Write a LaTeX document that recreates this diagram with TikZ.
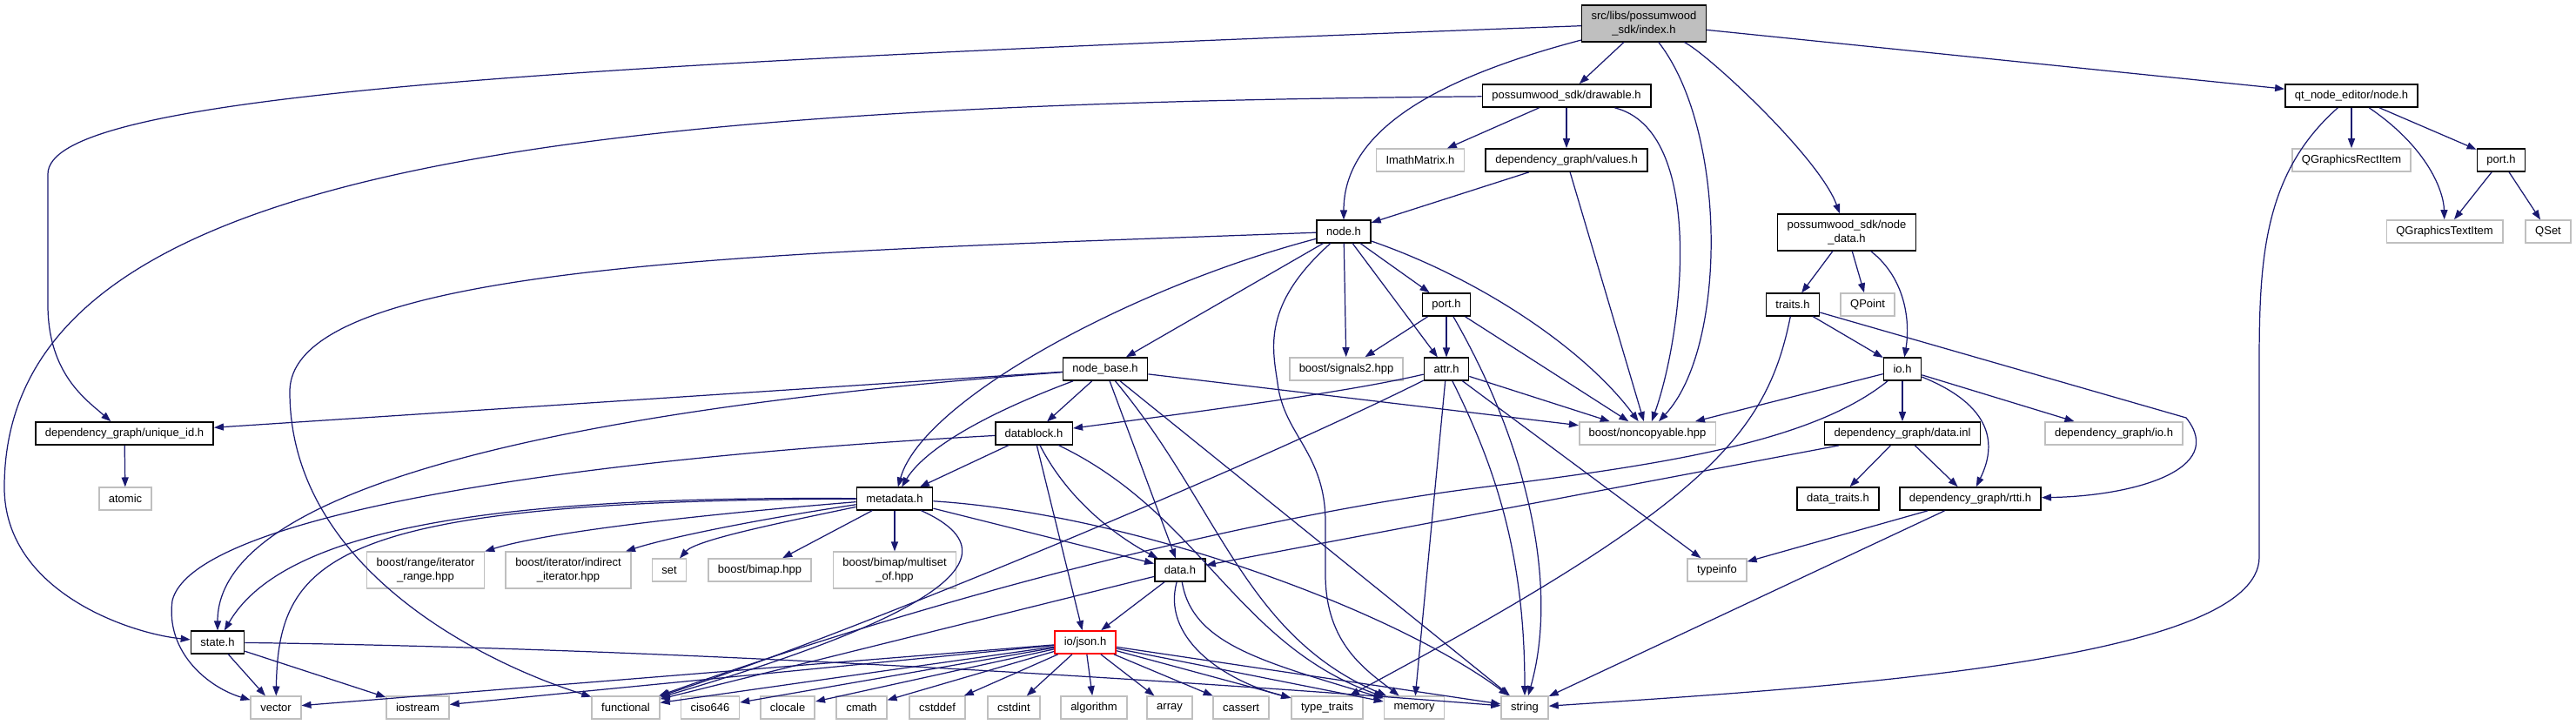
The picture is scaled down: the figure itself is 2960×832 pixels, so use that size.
\documentclass[tikz,border=0pt]{standalone}
\usepackage{fontspec}
\setmainfont{Liberation Sans}
\usetikzlibrary{arrows.meta}
\definecolor{depblue}{HTML}{191970}
\definecolor{sysgray}{HTML}{BFBFBF}

\begin{document}
\begin{tikzpicture}[x=0.01cm,y=-0.01cm,
  hdr/.style={draw=black,fill=white,line width=0.45pt,inner xsep=0.11cm,inner ysep=0.07cm,
    minimum height=0.255cm,font=\fontsize{3.7}{4.4}\selectfont,align=center},
  sys/.style={hdr,draw=sysgray},
  dep/.style={draw=depblue,line width=0.35pt,-{Triangle[length=1.1mm,width=0.8mm]}}]
\useasboundingbox (0,0) rectangle (2960,832);
% the file itself and what it pulls in
\node[hdr,fill=sysgray] (index) at (1889,27) {src/libs/possumwood\\\_sdk/index.h};
\node[hdr] (drawable) at (1800,110) {possumwood\_sdk/drawable.h};
\node[sys] (imath) at (1632,184) {ImathMatrix.h};
\node[hdr] (values) at (1800,184) {dependency\_graph/values.h};
\node[hdr] (qtnode) at (2702,110) {qt\_node\_editor/node.h};
\node[sys] (qrect) at (2702,184) {QGraphicsRectItem};
\node[hdr] (qport) at (2874,184) {port.h};
\node[sys] (qtext) at (2809,266) {QGraphicsTextItem};
\node[sys] (qset) at (2928,266) {QSet};
\node[hdr] (nodeh) at (1544,266) {node.h};
\node[hdr] (nodedata) at (2122,267) {possumwood\_sdk/node\\\_data.h};
\node[hdr] (port) at (1662,350) {port.h};
\node[hdr] (traits) at (2060,350) {traits.h};
\node[sys] (qpoint) at (2146,350) {QPoint};
\node[hdr] (nodebase) at (1270,424) {node\_base.h};
\node[sys] (signals) at (1547,424) {boost/signals2.hpp};
\node[hdr] (attr) at (1662,424) {attr.h};
\node[hdr] (io) at (2186,424) {io.h};
\node[hdr] (uniqueid) at (143,498) {dependency\_graph/unique\_id.h};
\node[hdr] (datablock) at (1188,498) {datablock.h};
\node[sys] (noncopy) at (1893,498) {boost/noncopyable.hpp};
\node[hdr] (datainl) at (2186,498) {dependency\_graph/data.inl};
\node[sys] (dgio) at (2429,498) {dependency\_graph/io.h};
\node[sys] (atomic) at (144,573) {atomic};
\node[hdr] (metadata) at (1028,573) {metadata.h};
\node[hdr] (datatraits) at (2112,573) {data\_traits.h};
\node[hdr] (rtti) at (2264,573) {dependency\_graph/rtti.h};
\node[sys] (range) at (489,655) {boost/range/iterator\\\_range.hpp};
\node[sys] (indirect) at (653,655) {boost/iterator/indirect\\\_iterator.hpp};
\node[sys] (set) at (769,655) {set};
\node[sys] (bimap) at (873,655) {boost/bimap.hpp};
\node[sys] (multiset) at (1028,655) {boost/bimap/multiset\\\_of.hpp};
\node[hdr] (datah) at (1356,655) {data.h};
\node[sys] (typeinfo) at (1973,655) {typeinfo};
\node[hdr] (state) at (250,738) {state.h};
\node[hdr,draw=red] (json) at (1247,738) {io/json.h};
% standard headers along the bottom
\foreach \nm/\x/\lab in {vector/317/vector, iostream/480/iostream, functional/719/functional,
    ciso646/816/ciso646, clocale/905/clocale, cmath/990/cmath, cstddef/1077/cstddef,
    cstdint/1165/cstdint, algorithm/1257/algorithm, array/1344/array, cassert/1426/cassert,
    typetraits/1525/type\_traits, memory/1625/memory, string/1752/string}
  \node[sys] (\nm) at (\x,813) {\lab};
% index.h
\draw[dep] (index) .. controls (600,75) and (55,110) .. (55,200) -- (55,350)
  .. controls (55,430) and (100,460) .. (uniqueid);
\draw[dep] (index) -- (drawable);
\draw[dep] (index) .. controls (1650,90) and (1544,150) .. (nodeh);
\draw[dep] (index) .. controls (1985,150) and (1985,400) .. (noncopy);
\draw[dep] (index) .. controls (1960,60) and (2090,180) .. (nodedata);
\draw[dep] (index) -- (qtnode);
% drawable.h and values.h
\draw[dep] (drawable) .. controls (600,120) and (5,200) .. (5,560)
  .. controls (5,680) and (150,728) .. (state);
\draw[dep] (drawable) -- (imath);
\draw[dep] (drawable) -- (values);
\draw[dep] (drawable) .. controls (1960,150) and (1935,380) .. (noncopy);
\draw[dep] (values) -- (nodeh);
\draw[dep] (values) -- (noncopy);
% node.h
\draw[dep] (nodeh) .. controls (900,290) and (333,300) .. (333,450)
  .. controls (333,650) and (550,760) .. (functional);
\draw[dep] (nodeh) .. controls (1300,330) and (1060,460) .. (metadata);
\draw[dep] (nodeh) -- (nodebase);
\draw[dep] (nodeh) .. controls (1450,350) and (1462,400) .. (1468,440)
  .. controls (1475,500) and (1523,520) .. (1523,600) -- (1523,660)
  .. controls (1523,740) and (1570,770) .. (memory);
\draw[dep] (nodeh) -- (signals);
\draw[dep] (nodeh) -- (attr);
\draw[dep] (nodeh) -- (port);
\draw[dep] (nodeh) .. controls (1700,320) and (1820,400) .. (noncopy);
% port.h
\draw[dep] (port) -- (signals);
\draw[dep] (port) -- (attr);
\draw[dep] (port) .. controls (1760,520) and (1790,680) .. (string);
\draw[dep] (port) -- (noncopy);
% attr.h
\draw[dep] (attr) .. controls (1550,450) and (1400,470) .. (datablock);
\draw[dep] (attr) .. controls (1450,530) and (1000,720) .. (functional);
\draw[dep] (attr) -- (memory);
\draw[dep] (attr) .. controls (1720,540) and (1752,640) .. (string);
\draw[dep] (attr) -- (typeinfo);
\draw[dep] (attr) -- (noncopy);
% node_base.h
\draw[dep] (nodebase) -- (uniqueid);
\draw[dep] (nodebase) .. controls (650,470) and (250,560) .. (state);
\draw[dep] (nodebase) .. controls (1120,480) and (1060,520) .. (metadata);
\draw[dep] (nodebase) -- (datablock);
\draw[dep] (nodebase) -- (datah);
\draw[dep] (nodebase) .. controls (1400,580) and (1430,730) .. (memory);
\draw[dep] (nodebase) -- (string);
\draw[dep] (nodebase) -- (noncopy);
% datablock.h
\draw[dep] (datablock) -- (metadata);
\draw[dep] (datablock) -- (json);
\draw[dep] (datablock) .. controls (1230,580) and (1290,620) .. (datah);
\draw[dep] (datablock) .. controls (1380,590) and (1420,740) .. (memory);
\draw[dep] (datablock) .. controls (600,530) and (220,600) .. (198,690)
  .. controls (190,750) and (240,790) .. (vector);
% metadata.h
\draw[dep] (metadata) .. controls (600,570) and (330,600) .. (state);
\draw[dep] (metadata) .. controls (380,575) and (320,640) .. (vector);
\draw[dep] (metadata) .. controls (700,600) and (600,620) .. (range);
\draw[dep] (metadata) .. controls (850,600) and (760,620) .. (indirect);
\draw[dep] (metadata) .. controls (900,600) and (800,620) .. (set);
\draw[dep] (metadata) -- (bimap);
\draw[dep] (metadata) -- (multiset);
\draw[dep] (metadata) .. controls (1200,650) and (1000,730) .. (functional);
\draw[dep] (metadata) -- (datah);
\draw[dep] (metadata) .. controls (1300,590) and (1600,700) .. (string);
% data.h
\draw[dep] (datah) -- (json);
\draw[dep] (datah) -- (functional);
\draw[dep] (datah) .. controls (1335,730) and (1400,780) .. (typetraits);
\draw[dep] (datah) .. controls (1370,740) and (1450,760) .. (memory);
% io/json.h fans out over the bottom row
\foreach \nm in {vector,iostream,functional,ciso646,clocale,cmath,cstddef,cstdint,
    algorithm,array,cassert,typetraits,memory,string}
  \draw[dep] (json) -- (\nm);
% state.h
\draw[dep] (state) -- (vector);
\draw[dep] (state) -- (iostream);
\draw[dep] (state) .. controls (800,745) and (1400,785) .. (string);
% node_data.h, traits.h, io.h
\draw[dep] (nodedata) -- (traits);
\draw[dep] (nodedata) -- (qpoint);
\draw[dep] (nodedata) .. controls (2190,320) and (2195,370) .. (io);
\draw[dep] (traits) -- (io);
\draw[dep] (traits) .. controls (2030,500) and (1960,580) .. (typetraits);
\draw[dep] (traits) -- (2512,480) .. controls (2560,540) and (2450,570) .. (rtti);
\draw[dep] (io) -- (noncopy);
\draw[dep] (io) .. controls (2080,510) and (1900,535) .. (1702,560)
  .. controls (1500,585) and (1150,660) .. (functional);
\draw[dep] (io) -- (datainl);
\draw[dep] (io) .. controls (2300,470) and (2290,520) .. (rtti);
\draw[dep] (io) -- (dgio);
\draw[dep] (datainl) -- (datatraits);
\draw[dep] (datainl) -- (rtti);
\draw[dep] (datainl) -- (datah);
\draw[dep] (rtti) -- (typeinfo);
\draw[dep] (rtti) -- (string);
% qt_node_editor/node.h
\draw[dep] (qtnode) -- (qrect);
\draw[dep] (qtnode) .. controls (2790,170) and (2808,220) .. (qtext);
\draw[dep] (qtnode) -- (qport);
\draw[dep] (qtnode) .. controls (2600,200) and (2596,300) .. (2596,420) -- (2596,640)
  .. controls (2596,760) and (2100,790) .. (string);
\draw[dep] (qport) -- (qtext);
\draw[dep] (qport) -- (qset);
\draw[dep] (uniqueid) -- (atomic);
\end{tikzpicture}
\end{document}
